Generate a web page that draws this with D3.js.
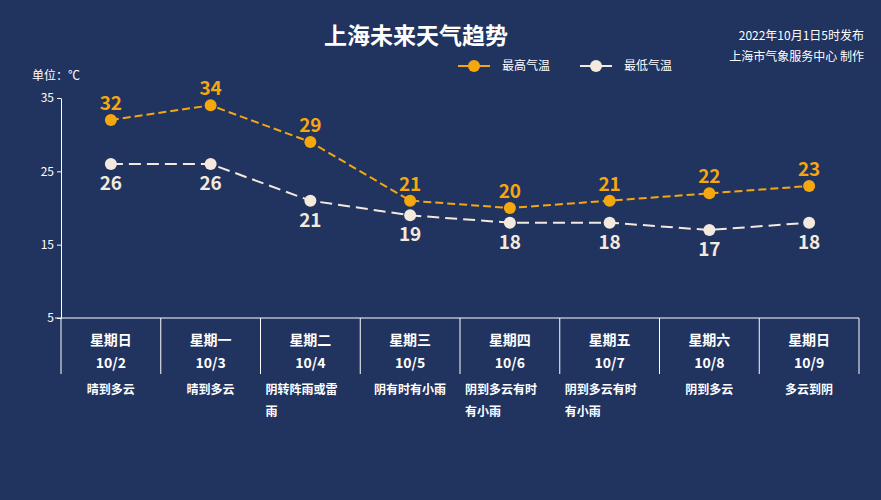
<!DOCTYPE html><html><head><meta charset="utf-8"><script src="https://cdn.jsdelivr.net/npm/d3@7"></script>
<style>body{margin:0;background:#21335f}svg{display:block}</style></head><body><svg id="c" width="881" height="500"></svg>
<script>
const days=["星期日","星期一","星期二","星期三","星期四","星期五","星期六","星期日"];
const dates=["10/2","10/3","10/4","10/5","10/6","10/7","10/8","10/9"];
const weather=[["晴到多云"],["晴到多云"],["阴转阵雨或雷","雨"],["阴有时有小雨"],["阴到多云有时","有小雨"],["阴到多云有时","有小雨"],["阴到多云"],["多云到阴"]];
const highs=[32,34,29,21,20,21,22,23];
const lows=[26,26,21,19,18,18,17,18];
const yTicks=[5,15,25,35];
const F="'Noto Sans CJK SC',sans-serif";
const svg=d3.select("#c");
svg.append("rect").attr("width",881).attr("height",500).attr("fill","#21335f");
const x=d3.scaleBand().domain(d3.range(8)).range([61,859]);
const y=d3.scaleLinear().domain([5,35]).range([318,98]);
const cx=i=>x(i)+x.bandwidth()/2;
svg.append("text").attr("x",416).attr("y",44).attr("text-anchor","middle").attr("fill","#fff").attr("font-family",F).attr("font-weight","bold").attr("font-size",23).text("上海未来天气趋势");
svg.append("text").attr("x",864).attr("y",40).attr("text-anchor","end").attr("fill","#fff").attr("font-family",F).attr("font-size",12).text("2022年10月1日5时发布");
svg.append("text").attr("x",864).attr("y",61).attr("text-anchor","end").attr("fill","#fff").attr("font-family",F).attr("font-size",12).text("上海市气象服务中心 制作");
svg.append("text").attr("x",32).attr("y",80).attr("fill","#fff").attr("font-family",F).attr("font-size",12).text("单位：℃");
// legend
[["最高气温","#f5a70f",458],["最低气温","#f3e9dd",580]].forEach(([t,c,lx])=>{
 svg.append("line").attr("x1",lx).attr("x2",lx+32).attr("y1",66).attr("y2",66).attr("stroke",c).attr("stroke-width",2);
 svg.append("circle").attr("cx",lx+16).attr("cy",66).attr("r",6).attr("fill",c);
 svg.append("text").attr("x",lx+44).attr("y",70).attr("fill","#fff").attr("font-family",F).attr("font-size",12).text(t);
});
const ya=svg.append("g").attr("transform","translate(61,0)").call(d3.axisLeft(y).tickValues(yTicks).tickSize(4).tickSizeOuter(0));
ya.selectAll("path,line").attr("stroke","#fff");
ya.selectAll("text").attr("fill","#fff").attr("font-family",F).attr("font-size",12);
svg.append("line").attr("x1",61).attr("x2",61).attr("y1",318).attr("y2",374).attr("stroke","#fff");
svg.append("line").attr("x1",55).attr("x2",859).attr("y1",318).attr("y2",318).attr("stroke","#fff");
d3.range(1,9).forEach(i=>{const xx=i<8?x(i):859;svg.append("line").attr("x1",xx).attr("x2",xx).attr("y1",318).attr("y2",374).attr("stroke","#fff");});
d3.range(8).forEach(i=>{
 const g=svg.append("g").attr("fill","#fff").attr("font-family",F).attr("text-anchor","middle");
 g.append("text").attr("x",cx(i)).attr("y",345).attr("font-size",14).attr("font-weight","bold").text(days[i]);
 g.append("text").attr("x",cx(i)).attr("y",368).attr("font-size",14).attr("font-weight","bold").text(dates[i]);
 weather[i].forEach((w,k)=>{
  const t=g.append("text").attr("y",394+k*22).attr("font-size",12).attr("font-weight","bold").text(w);
  if(weather[i].length>1){t.attr("x",x(i)+5).attr("text-anchor","start");}else t.attr("x",cx(i));
 });
});
function series(d,c,dash,above){
 svg.append("path").datum(d).attr("fill","none").attr("stroke",c).attr("stroke-width",2).attr("stroke-dasharray",dash)
  .attr("d",d3.line().x((v,i)=>cx(i)).y(v=>y(v)));
 svg.selectAll(null).data(d).join("circle").attr("cx",(v,i)=>cx(i)).attr("cy",v=>y(v)).attr("r",6).attr("fill",c);
 svg.selectAll(null).data(d).join("text").attr("x",(v,i)=>cx(i)).attr("y",v=>above?y(v)-10:y(v)+26)
  .attr("text-anchor","middle").attr("fill",c).attr("font-family",F).attr("font-weight","bold").attr("font-size",19).text(v=>v);
}
series(highs,"#f5a70f","8,4",true);
series(lows,"#f3e9dd","12,6",false);
</script></body></html>
